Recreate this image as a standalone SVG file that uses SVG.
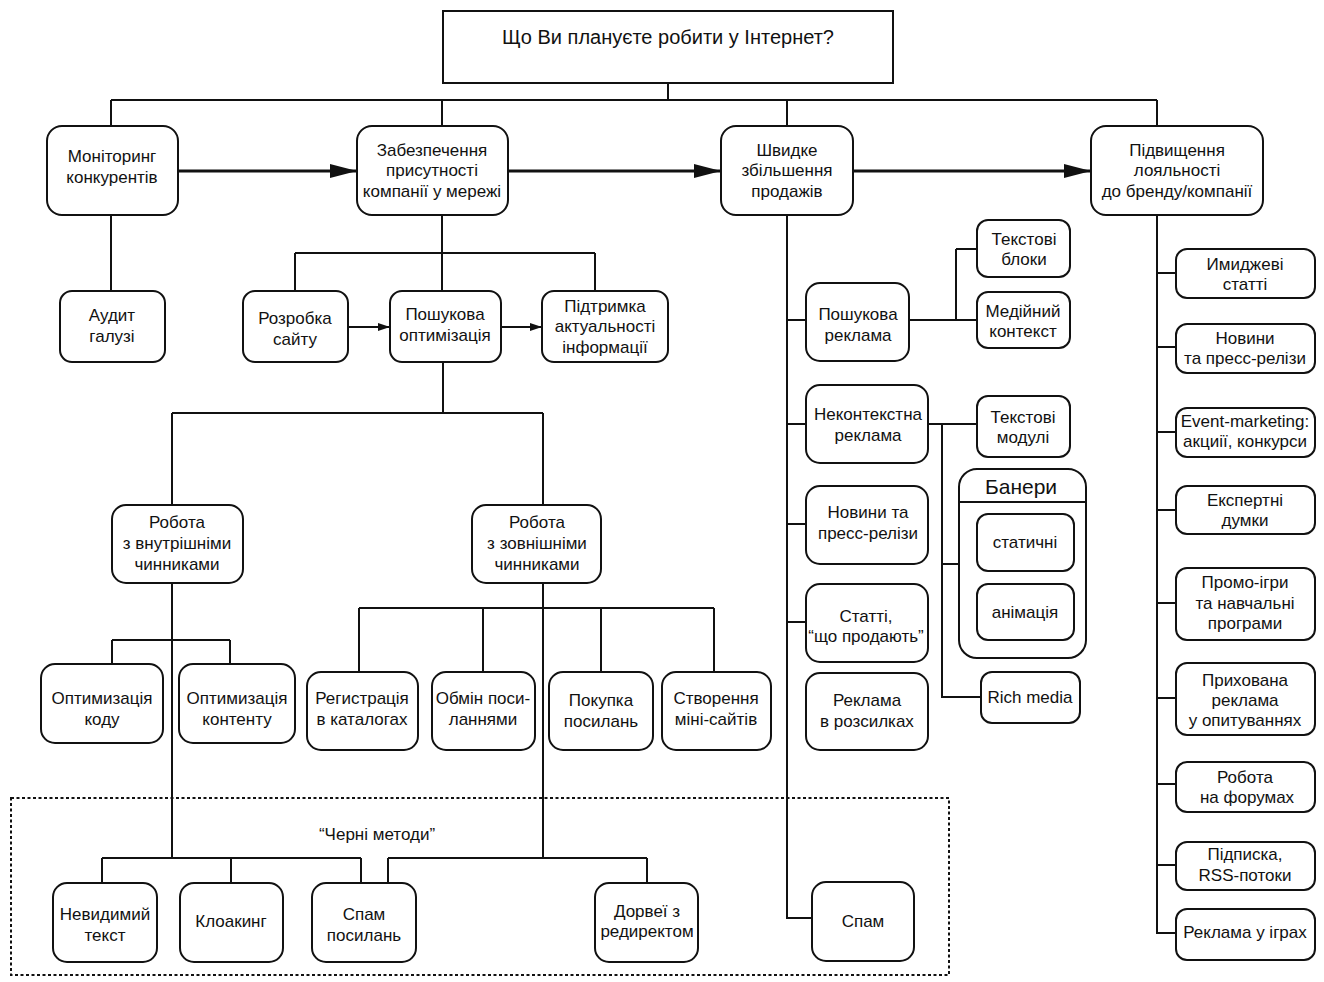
<svg xmlns="http://www.w3.org/2000/svg" width="1324" height="982" viewBox="0 0 1324 982">
<style>
.n rect{fill:#fff;stroke:#111;stroke-width:2}
text{font-family:"Liberation Sans",Arial,sans-serif;font-size:17px;fill:#111;text-anchor:middle}
.c path{fill:none;stroke:#111;stroke-width:2}
.c path.thick{stroke-width:3}
.dot{fill:none;stroke:#111;stroke-width:2;stroke-dasharray:3 2.5}
</style>
<defs>
<marker id="big" markerUnits="userSpaceOnUse" markerWidth="28" markerHeight="16" viewBox="0 0 28 16" refX="27" refY="8" orient="auto"><path d="M0,1 L27,8 L0,15 Z" fill="#111"/></marker>
<marker id="small" markerUnits="userSpaceOnUse" markerWidth="12" markerHeight="10" viewBox="0 0 12 10" refX="12" refY="5" orient="auto"><path d="M0,1 L12,5 L0,9 Z" fill="#111"/></marker>
</defs>
<rect width="1324" height="982" fill="#fff"/>
<rect class="dot" x="11" y="798" width="938" height="177"/>
<text x="377" y="840">“Черні методи”</text>
<g class="c">
<path d="M668,83V100M111,100H1157M111,100V126M442,100V126M787,100V126M1157,100V126"/>
<path class="thick" d="M178,171H357" marker-end="url(#big)"/>
<path class="thick" d="M508,171H721" marker-end="url(#big)"/>
<path class="thick" d="M853,171H1091" marker-end="url(#big)"/>
<path d="M111,215V291"/>
<path d="M442,215V291M295,253H595M295,253V291M595,253V291"/>
<path d="M348,327H390" marker-end="url(#small)"/>
<path d="M501,327H542" marker-end="url(#small)"/>
<path d="M443,362V413M172,413H543M172,413V505M543,413V505"/>
<path d="M172,583V858M112,640H230M112,640V664M230,640V664"/>
<path d="M102,858H361M102,858V882M231,858V882M361,858V883"/>
<path d="M543,583V858M359,608H714M359,608V672M483,608V672M601,608V672M714,608V672"/>
<path d="M388,858H647M388,858V883M647,858V883"/>
<path d="M787,215V918H812M787,320H806M787,424H806M787,524H806M787,622H806"/>
<path d="M909,320H977M956,249V320M956,249H977"/>
<path d="M928,424H977M942,424V697H981M942,564H959"/>
<path d="M1157,215V933H1176M1157,273H1176M1157,347H1176M1157,432H1176M1157,510H1176M1157,603H1176M1157,698H1176M1157,784H1176M1157,865H1176"/>
</g>
<g id="root" class="n"><rect x="443" y="11" width="450" height="72"/><text x="668" y="44" style="font-size:20px">Що Ви плануєте робити у Інтернет?</text></g>
<g id="monitoring" class="n"><rect x="47" y="126" width="131" height="89" rx="15"/><text x="112"><tspan x="112" y="162">Моніторинг</tspan><tspan x="112" y="183">конкурентів</tspan></text></g>
<g id="presence" class="n"><rect x="357" y="126" width="151" height="89" rx="15"/><text><tspan x="432" y="156">Забезпечення</tspan><tspan x="432" y="176">присутності</tspan><tspan x="432" y="197">компанії у мережі</tspan></text></g>
<g id="sales" class="n"><rect x="721" y="126" width="132" height="89" rx="15"/><text><tspan x="787" y="156">Швидке</tspan><tspan x="787" y="176">збільшення</tspan><tspan x="787" y="197">продажів</tspan></text></g>
<g id="loyalty" class="n"><rect x="1091" y="126" width="172" height="89" rx="15"/><text><tspan x="1177" y="156">Підвищення</tspan><tspan x="1177" y="176">лояльності</tspan><tspan x="1177" y="197">до бренду/компанії</tspan></text></g>
<g id="audit" class="n"><rect x="60" y="291" width="105" height="71" rx="12"/><text><tspan x="112" y="321">Аудит</tspan><tspan x="112" y="342">галузі</tspan></text></g>
<g id="site" class="n"><rect x="243" y="291" width="105" height="71" rx="12"/><text><tspan x="295" y="324">Розробка</tspan><tspan x="295" y="345">сайту</tspan></text></g>
<g id="seo" class="n"><rect x="390" y="291" width="111" height="71" rx="12"/><text><tspan x="445" y="320">Пошукова</tspan><tspan x="445" y="341">оптимізація</tspan></text></g>
<g id="support" class="n"><rect x="542" y="291" width="126" height="71" rx="12"/><text><tspan x="605" y="312">Підтримка</tspan><tspan x="605" y="332">актуальності</tspan><tspan x="605" y="353">інформації</tspan></text></g>
<g id="internal" class="n"><rect x="112" y="505" width="131" height="78" rx="14"/><text><tspan x="177" y="528">Робота</tspan><tspan x="177" y="549">з внутрішніми</tspan><tspan x="177" y="570">чинниками</tspan></text></g>
<g id="external" class="n"><rect x="472" y="505" width="129" height="78" rx="14"/><text><tspan x="537" y="528">Робота</tspan><tspan x="537" y="549">з зовнішніми</tspan><tspan x="537" y="570">чинниками</tspan></text></g>
<g id="code" class="n"><rect x="41" y="664" width="122" height="79" rx="14"/><text><tspan x="102" y="704">Оптимизація</tspan><tspan x="102" y="725">коду</tspan></text></g>
<g id="content" class="n"><rect x="179" y="664" width="116" height="79" rx="14"/><text><tspan x="237" y="704">Оптимизація</tspan><tspan x="237" y="725">контенту</tspan></text></g>
<g id="catalogs" class="n"><rect x="307" y="672" width="111" height="78" rx="14"/><text><tspan x="362" y="704">Регистрація</tspan><tspan x="362" y="725">в каталогах</tspan></text></g>
<g id="exchange" class="n"><rect x="432" y="672" width="103" height="78" rx="14"/><text><tspan x="483" y="704">Обмін поси-</tspan><tspan x="483" y="725">ланнями</tspan></text></g>
<g id="buy" class="n"><rect x="549" y="672" width="104" height="78" rx="14"/><text><tspan x="601" y="706">Покупка</tspan><tspan x="601" y="727">посилань</tspan></text></g>
<g id="minisites" class="n"><rect x="662" y="672" width="109" height="78" rx="14"/><text><tspan x="716" y="704">Створення</tspan><tspan x="716" y="725">міні-сайтів</tspan></text></g>
<g id="invisible" class="n"><rect x="53" y="883" width="104" height="79" rx="14"/><text><tspan x="105" y="920">Невидимий</tspan><tspan x="105" y="941">текст</tspan></text></g>
<g id="cloaking" class="n"><rect x="180" y="883" width="103" height="79" rx="14"/><text x="231" y="927">Клоакинг</text></g>
<g id="linkspam" class="n"><rect x="312" y="883" width="104" height="79" rx="14"/><text><tspan x="364" y="920">Спам</tspan><tspan x="364" y="941">посилань</tspan></text></g>
<g id="doorways" class="n"><rect x="595" y="883" width="103" height="79" rx="14"/><text><tspan x="647" y="917">Дорвеї з</tspan><tspan x="647" y="937">редиректом</tspan></text></g>
<g id="spam" class="n"><rect x="812" y="882" width="102" height="79" rx="14"/><text x="863" y="927">Спам</text></g>
<g id="searchads" class="n"><rect x="806" y="283" width="103" height="78" rx="14"/><text><tspan x="858" y="320">Пошукова</tspan><tspan x="858" y="341">реклама</tspan></text></g>
<g id="textblocks" class="n"><rect x="977" y="220" width="93" height="57" rx="11"/><text><tspan x="1024" y="245">Текстові</tspan><tspan x="1024" y="265">блоки</tspan></text></g>
<g id="media" class="n"><rect x="977" y="292" width="93" height="56" rx="11"/><text><tspan x="1023" y="317">Медійний</tspan><tspan x="1023" y="337">контекст</tspan></text></g>
<g id="noncontext" class="n"><rect x="806" y="385" width="122" height="78" rx="14"/><text><tspan x="868" y="420">Неконтекстна</tspan><tspan x="868" y="441">реклама</tspan></text></g>
<g id="textmodules" class="n"><rect x="977" y="396" width="93" height="61" rx="11"/><text><tspan x="1023" y="423">Текстові</tspan><tspan x="1023" y="443">модулі</tspan></text></g>
<g id="banners" class="n"><rect x="959" y="469" width="127" height="189" rx="18"/><path d="M959,502H1086" stroke="#111" stroke-width="2"/><text x="1021" y="494" style="font-size:21px">Банери</text></g>
<g id="static" class="n"><rect x="977" y="514" width="97" height="57" rx="11"/><text x="1025" y="548">статичні</text></g>
<g id="animation" class="n"><rect x="977" y="584" width="97" height="56" rx="11"/><text x="1025" y="618">анімація</text></g>
<g id="richmedia" class="n"><rect x="981" y="672" width="99" height="51" rx="11"/><text x="1030" y="703">Rich media</text></g>
<g id="news" class="n"><rect x="806" y="486" width="122" height="78" rx="14"/><text><tspan x="868" y="518">Новини та</tspan><tspan x="868" y="539">пресс-релізи</tspan></text></g>
<g id="articles" class="n"><rect x="806" y="584" width="122" height="78" rx="14"/><text><tspan x="866" y="622">Статті,</tspan><tspan x="866" y="642">“що продають”</tspan></text></g>
<g id="mailing" class="n"><rect x="806" y="673" width="122" height="77" rx="14"/><text><tspan x="867" y="706">Реклама</tspan><tspan x="867" y="727">в розсилках</tspan></text></g>
<g id="image" class="n"><rect x="1176" y="249" width="139" height="49" rx="11"/><text><tspan x="1245" y="270">Имиджеві</tspan><tspan x="1245" y="290">статті</tspan></text></g>
<g id="lnews" class="n"><rect x="1176" y="324" width="139" height="49" rx="11"/><text><tspan x="1245" y="344">Новини</tspan><tspan x="1245" y="364">та пресс-релізи</tspan></text></g>
<g id="event" class="n"><rect x="1176" y="408" width="139" height="49" rx="11"/><text><tspan x="1245" y="427">Event-marketing:</tspan><tspan x="1245" y="447">акциії, конкурси</tspan></text></g>
<g id="expert" class="n"><rect x="1176" y="486" width="139" height="48" rx="11"/><text><tspan x="1245" y="506">Експертні</tspan><tspan x="1245" y="526">думки</tspan></text></g>
<g id="promo" class="n"><rect x="1176" y="568" width="139" height="72" rx="11"/><text><tspan x="1245" y="588">Промо-ігри</tspan><tspan x="1245" y="609">та навчальні</tspan><tspan x="1245" y="629">програми</tspan></text></g>
<g id="hidden" class="n"><rect x="1176" y="663" width="139" height="72" rx="11"/><text><tspan x="1245" y="686">Прихована</tspan><tspan x="1245" y="706">реклама</tspan><tspan x="1245" y="726">у опитуваннях</tspan></text></g>
<g id="forums" class="n"><rect x="1176" y="762" width="139" height="50" rx="11"/><text><tspan x="1245" y="783">Робота</tspan><tspan x="1247" y="803">на форумах</tspan></text></g>
<g id="rss" class="n"><rect x="1176" y="842" width="139" height="48" rx="11"/><text><tspan x="1245" y="860">Підписка,</tspan><tspan x="1245" y="881">RSS-потоки</tspan></text></g>
<g id="games" class="n"><rect x="1176" y="909" width="139" height="51" rx="11"/><text x="1245" y="938">Реклама у іграх</text></g>
</svg>
